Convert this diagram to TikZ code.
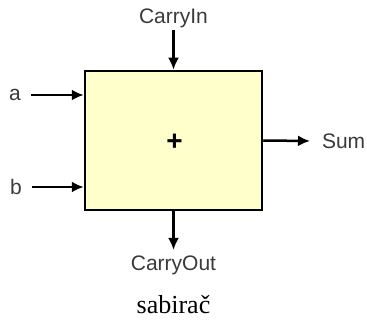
\documentclass[tikz,border=0pt]{standalone}
\usepackage{fontspec}
\setmainfont{Liberation Serif}
\setsansfont{Liberation Sans}
\usetikzlibrary{arrows.meta,calc,positioning}
\definecolor{yellowlite}{HTML}{FFFFCC}
\definecolor{textgray}{HTML}{3A3A3A}

\begin{document}
\begin{tikzpicture}[x=1pt,y=-1pt,>={Latex[length=12pt,width=11pt]},
    lbl/.style={font=\sffamily\fontsize{21}{24}\selectfont,text=textgray,inner sep=0pt,outer sep=10pt},
    sig/.style={->,line width=2.5pt}]
        \useasboundingbox (0,0) rectangle (367,320);
        \node[fill=yellowlite,draw=black,line width=2.5pt,minimum width=177pt,minimum height=139pt,inner sep=0pt] (add) at (173.5,140.5) {};
        \node[font=\sffamily\bfseries\fontsize{28}{30}\selectfont,inner sep=0pt] (plus) at (174.5,142.5) {+};
        \node[lbl,outer sep=2pt] (cin) at (173.5,18.5) {CarryIn};
        \node[lbl,outer sep=6pt] (cout) at (173.5,265.5) {CarryOut};
        \node[lbl] (a) at (15,95) {a};
        \node[lbl] (b) at (16,187) {b};
        \node[lbl,anchor=west,outer sep=0pt] (sum) at (322,141) {Sum};
        \node[font=\fontsize{26}{28}\selectfont,inner sep=0pt,below=14pt of cout.south] (name) {sabira\v{c}};
        \draw[sig] (cin) -- (cin |- add.north);
        \draw[sig] (a) -- (a -| add.west);
        \draw[sig] (b) -- (b -| add.west);
        \draw[sig] (add.east) -- ($(sum.west)+(-12,0)$);
        \draw[sig] (add.south) -- (cout);
      \end{tikzpicture}
\end{document}
